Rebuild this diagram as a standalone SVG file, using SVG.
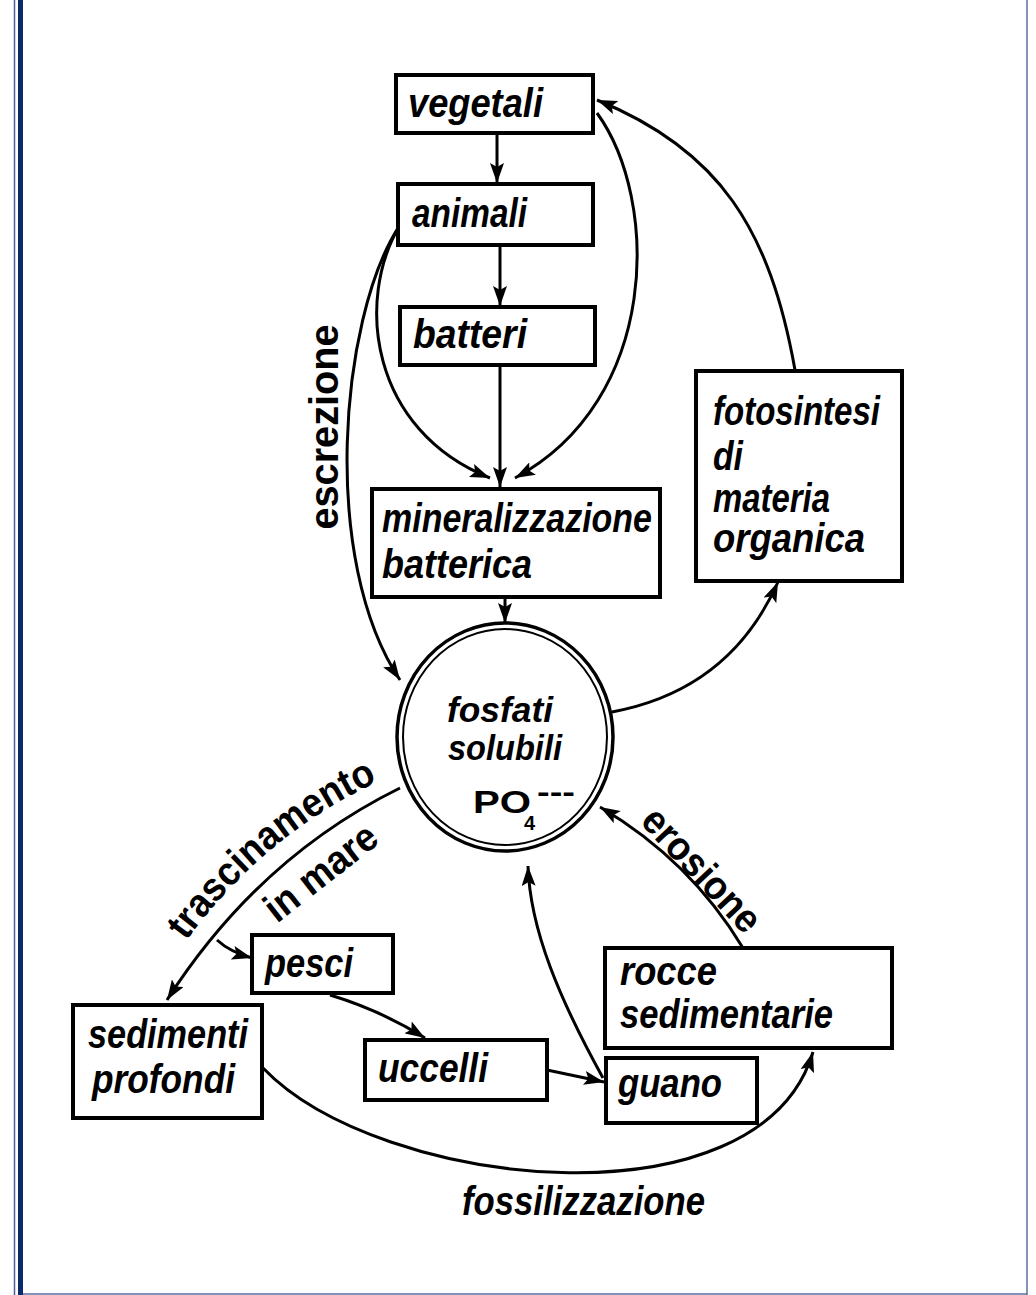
<svg xmlns="http://www.w3.org/2000/svg" width="1036" height="1295" viewBox="0 0 1036 1295">
<defs>
<style>
.box{fill:#fff;stroke:#000;stroke-width:4}
.nt{font-family:"Liberation Sans",Arial,sans-serif;font-weight:bold;font-style:italic;font-size:40px;fill:#000}
.lb{font-family:"Liberation Sans",Arial,sans-serif;font-weight:bold;font-size:40px;fill:#000}
.con{fill:none;stroke:#000;stroke-width:3}
</style>
<marker id="ah" markerUnits="userSpaceOnUse" markerWidth="22" markerHeight="14" refX="20" refY="7" orient="auto">
<path d="M0,0 L20,7 L0,14 L4,7 z" fill="#000"/>
</marker>
<path id="trp" d="M178,952 Q262,832 390,776"/>
</defs>
<rect x="0" y="0" width="1036" height="1295" fill="#fff"/>
<g id="border">
<line x1="14.5" y1="0" x2="14.5" y2="1295" stroke="#4a5f95" stroke-width="1.5"/>
<line x1="20.5" y1="0" x2="20.5" y2="1295" stroke="#0b2a6b" stroke-width="5"/>
<line x1="1027" y1="0" x2="1027" y2="1295" stroke="#5a6fa0" stroke-width="1.5"/>
<line x1="23" y1="1294" x2="1027" y2="1294" stroke="#5a6fa0" stroke-width="1.5"/>
</g>
<g id="connectors">
<line class="con" x1="497" y1="133" x2="497" y2="183" marker-end="url(#ah)"/>
<line class="con" x1="500" y1="245" x2="500" y2="306" marker-end="url(#ah)"/>
<line class="con" x1="500" y1="365" x2="500" y2="487" marker-end="url(#ah)"/>
<path class="con" d="M400,225 C355,300 370,430 490,478" marker-end="url(#ah)"/>
<path class="con" d="M597,113 C660,200 660,400 515,478" marker-end="url(#ah)"/>
<path class="con" d="M398,228 C340,320 320,560 400,680" marker-end="url(#ah)"/>
<line class="con" x1="505" y1="597" x2="505" y2="623" marker-end="url(#ah)"/>
<path class="con" d="M612,712 Q730,690 778,582" marker-end="url(#ah)"/>
<path class="con" d="M795,370 C770,230 720,150 597,100" marker-end="url(#ah)"/>
<path class="con" d="M400,788 Q258,858 167,1000" marker-end="url(#ah)"/>
<path class="con" d="M217,940 Q230,952 252,958" marker-end="url(#ah)"/>
<path class="con" d="M330,995 Q380,1010 425,1038" marker-end="url(#ah)"/>
<line class="con" x1="547" y1="1070" x2="604" y2="1082" marker-end="url(#ah)"/>
<path class="con" d="M603,1078 C560,1000 530,930 528,866" marker-end="url(#ah)"/>
<path class="con" d="M743,948 Q690,860 600,807" marker-end="url(#ah)"/>
<path class="con" d="M263,1068 C380,1190 760,1230 813,1052" marker-end="url(#ah)"/>
</g>
<g id="labels">
<text class="lb" transform="translate(338,427) rotate(-90)" text-anchor="middle" textLength="205" lengthAdjust="spacingAndGlyphs">escrezione</text>
<text class="lb" transform="translate(692,879) rotate(47)" text-anchor="middle" textLength="155" lengthAdjust="spacingAndGlyphs">erosione</text>
<text class="lb"><textPath href="#trp" startOffset="50%" text-anchor="middle" textLength="252" lengthAdjust="spacingAndGlyphs">trascinamento</textPath></text>
<text class="lb" transform="translate(329,883) rotate(-38)" text-anchor="middle" textLength="132" lengthAdjust="spacingAndGlyphs">in mare</text>
<text class="nt" x="462" y="1215" textLength="243" lengthAdjust="spacingAndGlyphs">fossilizzazione</text>
</g>
<g id="vegetali">
<rect class="box" x="396" y="75" width="197" height="58"/>
<text class="nt" x="408" y="117" textLength="135" lengthAdjust="spacingAndGlyphs">vegetali</text>
</g>
<g id="animali">
<rect class="box" x="398" y="184" width="195" height="61"/>
<text class="nt" x="412" y="227" textLength="115" lengthAdjust="spacingAndGlyphs">animali</text>
</g>
<g id="batteri">
<rect class="box" x="400" y="307" width="195" height="58"/>
<text class="nt" x="413" y="348" textLength="114" lengthAdjust="spacingAndGlyphs">batteri</text>
</g>
<g id="mineralizzazione">
<rect class="box" x="372" y="489" width="288" height="108"/>
<text class="nt" x="382" y="532" textLength="270" lengthAdjust="spacingAndGlyphs">mineralizzazione</text>
<text class="nt" x="382" y="578" textLength="150" lengthAdjust="spacingAndGlyphs">batterica</text>
</g>
<g id="fosfati">
<ellipse cx="505" cy="737" rx="108" ry="114" fill="#fff" stroke="#000" stroke-width="3.5"/>
<ellipse cx="505" cy="737" rx="102" ry="108" fill="none" stroke="#000" stroke-width="2"/>
<text class="nt" x="447" y="722" style="font-size:35px" textLength="106" lengthAdjust="spacingAndGlyphs">fosfati</text>
<text class="nt" x="448" y="760" style="font-size:35px" textLength="114" lengthAdjust="spacingAndGlyphs">solubili</text>
<text x="473" y="813" font-family="'Liberation Sans',Arial,sans-serif" font-size="32" font-weight="bold" textLength="58" lengthAdjust="spacingAndGlyphs">PO</text>
<text x="524" y="830" font-family="'Liberation Sans',Arial,sans-serif" font-size="20" font-weight="bold">4</text>
<text x="537" y="802" font-family="'Liberation Sans',Arial,sans-serif" font-size="30" font-weight="bold" textLength="38" lengthAdjust="spacingAndGlyphs">---</text>
</g>
<g id="fotosintesi">
<rect class="box" x="696" y="371" width="206" height="210"/>
<text class="nt" x="713" y="425" textLength="167" lengthAdjust="spacingAndGlyphs">fotosintesi</text>
<text class="nt" x="713" y="470" textLength="30" lengthAdjust="spacingAndGlyphs">di</text>
<text class="nt" x="713" y="512" textLength="117" lengthAdjust="spacingAndGlyphs">materia</text>
<text class="nt" x="713" y="552" textLength="152" lengthAdjust="spacingAndGlyphs">organica</text>
</g>
<g id="pesci">
<rect class="box" x="252" y="935" width="141" height="58"/>
<text class="nt" x="265" y="977" textLength="88" lengthAdjust="spacingAndGlyphs">pesci</text>
</g>
<g id="sedimenti">
<rect class="box" x="73" y="1005" width="189" height="113"/>
<text class="nt" x="88" y="1048" textLength="160" lengthAdjust="spacingAndGlyphs">sedimenti</text>
<text class="nt" x="92" y="1093" textLength="143" lengthAdjust="spacingAndGlyphs">profondi</text>
</g>
<g id="uccelli">
<rect class="box" x="365" y="1040" width="182" height="60"/>
<text class="nt" x="378" y="1082" textLength="110" lengthAdjust="spacingAndGlyphs">uccelli</text>
</g>
<g id="guano">
<rect class="box" x="606" y="1058" width="151" height="65"/>
<text class="nt" x="618" y="1097" textLength="104" lengthAdjust="spacingAndGlyphs">guano</text>
</g>
<g id="rocce">
<rect class="box" x="605" y="948" width="287" height="100"/>
<text class="nt" x="620" y="985" textLength="97" lengthAdjust="spacingAndGlyphs">rocce</text>
<text class="nt" x="620" y="1028" textLength="213" lengthAdjust="spacingAndGlyphs">sedimentarie</text>
</g>
</svg>
